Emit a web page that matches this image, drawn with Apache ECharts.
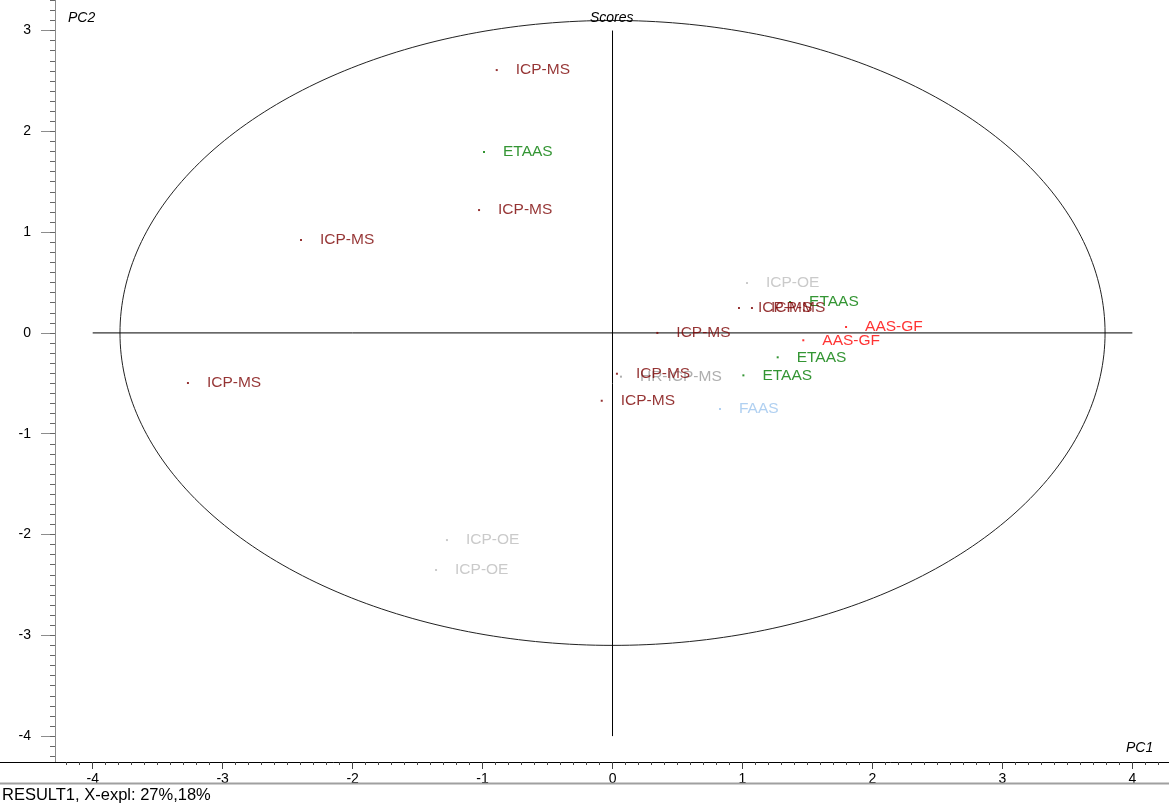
<!DOCTYPE html>
<html>
<head>
<meta charset="utf-8">
<title>Scores</title>
<script src="https://cdn.jsdelivr.net/npm/echarts@6/dist/echarts.min.js"></script>
<style>
  html, body { margin: 0; padding: 0; background: #ffffff; }
  #chart { width: 1169px; height: 805px; }
</style>
</head>
<body>
<div id="chart"></div>
<script>
// PCA score values (PC1, PC2) per analytical technique
const icpMs   = [[-0.891, 2.608], [-1.027, 1.219], [-2.397, 0.922], [-3.267, -0.497],
                 [0.973, 0.247], [1.073, 0.247], [0.345, 0.0], [0.034, -0.405], [-0.083, -0.673]];
const etaas   = [[-0.989, 1.795], [1.366, 0.307], [1.271, -0.242], [1.007, -0.421]];
const aasGf   = [[1.797, 0.059], [1.468, -0.073]];
const icpOe   = [[1.035, 0.495], [-1.274, -2.055], [-1.358, -2.352]];
const hrIcpMs = [[0.065, -0.434]];
const faas    = [[0.827, -0.755]];

// Axis ticks
const xMajorTicks = [-4, -3, -2, -1, 0, 1, 2, 3, 4];
const yMajorTicks = [-4, -3, -2, -1, 0, 1, 2, 3];
const xRange = [-4.29, 4.282];
const yRange = [-4.257, 3.303];

// Centre cross and confidence ellipse parameters
const crossX = [-4, 4];
const crossY = [-4, 3];
const ellipseRadii = [3.79, 3.10];

function minorTicks(lo, hi) {
  const out = [];
  for (let i = Math.ceil(lo * 10); i <= Math.floor(hi * 10); i++) out.push(i / 10);
  return out;
}

const ellipse = [];
for (let k = 0; k <= 360; k++) {
  const t = k * Math.PI / 180;
  ellipse.push([ellipseRadii[0] * Math.cos(t), ellipseRadii[1] * Math.sin(t)]);
}

const FONT = 'Liberation Sans, Arial, sans-serif';

function scoreSeries(name, data, color) {
  return {
    name: name,
    type: 'scatter',
    data: data,
    symbol: 'rect',
    symbolSize: 2,
    itemStyle: { color: color },
    label: {
      show: true,
      formatter: name,
      position: 'right',
      distance: 18,
      color: color,
      fontFamily: FONT,
      fontSize: 15.5
    },
    z: 5
  };
}

const chart = echarts.init(document.getElementById('chart'), null, { renderer: 'canvas' });

chart.setOption({
  animation: false,
  backgroundColor: '#ffffff',
  grid: { left: 55, right: 0, top: 0, bottom: 43, containLabel: false },
  xAxis: [
    {
      type: 'value', min: xRange[0], max: xRange[1], position: 'bottom',
      axisLine: { show: true, onZero: false, lineStyle: { color: '#000000', width: 1 } },
      axisTick: { show: true, customValues: xMajorTicks, length: 7, lineStyle: { color: '#444444' } },
      axisLabel: { show: true, customValues: xMajorTicks, margin: 10, color: '#000000', fontFamily: FONT, fontSize: 14 },
      splitLine: { show: false }
    },
    {
      type: 'value', min: xRange[0], max: xRange[1], position: 'bottom',
      axisLine: { show: false, onZero: false },
      axisTick: { show: true, customValues: minorTicks(xRange[0], xRange[1]), length: 3, lineStyle: { color: '#444444' } },
      axisLabel: { show: false },
      splitLine: { show: false }
    }
  ],
  yAxis: [
    {
      type: 'value', min: yRange[0], max: yRange[1], position: 'left',
      axisLine: { show: true, onZero: false, lineStyle: { color: '#8c8c8c', width: 1 } },
      axisTick: { show: true, customValues: yMajorTicks, length: 14, lineStyle: { color: '#8c8c8c' } },
      axisLabel: { show: true, customValues: yMajorTicks, margin: 24, color: '#000000', fontFamily: FONT, fontSize: 14 },
      splitLine: { show: false }
    },
    {
      type: 'value', min: yRange[0], max: yRange[1], position: 'left',
      axisLine: { show: false, onZero: false },
      axisTick: { show: true, customValues: minorTicks(yRange[0], yRange[1]), length: 5, lineStyle: { color: '#666666' } },
      axisLabel: { show: false },
      splitLine: { show: false }
    }
  ],
  series: [
    {
      type: 'line', data: ellipse, showSymbol: false, silent: true,
      lineStyle: { color: '#222222', width: 1 }, z: 1
    },
    {
      type: 'line', data: [[crossX[0], 0], [crossX[1], 0]], showSymbol: false, silent: true,
      lineStyle: { color: '#000000', width: 1 }, z: 1
    },
    {
      type: 'line', data: [[0, crossY[0]], [0, crossY[1]]], showSymbol: false, silent: true,
      lineStyle: { color: '#000000', width: 1 }, z: 1
    },
    scoreSeries('ICP-OE', icpOe, '#bdbdbd'),
    scoreSeries('HR-ICP-MS', hrIcpMs, '#9a9a9a'),
    scoreSeries('FAAS', faas, '#9cc4ee'),
    scoreSeries('ETAAS', etaas, '#007a00'),
    scoreSeries('AAS-GF', aasGf, '#ff0000'),
    scoreSeries('ICP-MS', icpMs, '#7a0000')
  ],
  graphic: [
    { type: 'line', shape: { x1: 0, y1: 762.5, x2: 55, y2: 762.5 }, style: { stroke: '#000000', lineWidth: 1 }, z: 10 },
    { type: 'line', shape: { x1: 0, y1: 783.5, x2: 1169, y2: 783.5 }, style: { stroke: '#a0a0a0', lineWidth: 2 }, z: 10 },
    { type: 'text', left: 2, top: 787, z: 10,
      style: { text: 'RESULT1, X-expl: 27%,18%', fill: '#000000', font: '16.5px ' + FONT } },
    { type: 'text', left: 590, top: 11, z: 10,
      style: { text: 'Scores', fill: '#000000', font: 'italic 14px ' + FONT } },
    { type: 'text', left: 68, top: 11, z: 10,
      style: { text: 'PC2', fill: '#000000', font: 'italic 14px ' + FONT } },
    { type: 'text', left: 1126, top: 741, z: 10,
      style: { text: 'PC1', fill: '#000000', font: 'italic 14px ' + FONT } }
  ]
});
</script>
</body>
</html>
